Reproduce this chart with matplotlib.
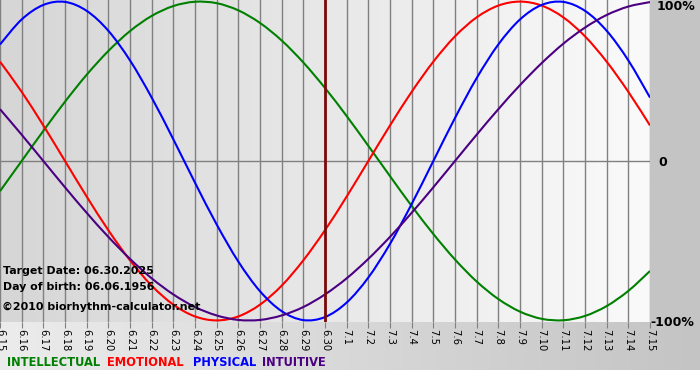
import numpy as np
import matplotlib
matplotlib.use("Agg")
import matplotlib.pyplot as plt
from matplotlib.colors import to_rgb
from matplotlib.path import Path
from matplotlib.patches import PathPatch

days = ["6.15", "6.16", "6.17", "6.18", "6.19", "6.20", "6.21", "6.22", "6.23", "6.24",
        "6.25", "6.26", "6.27", "6.28", "6.29", "6.30", "7.1", "7.2", "7.3", "7.4",
        "7.5", "7.6", "7.7", "7.8", "7.9", "7.10", "7.11", "7.12", "7.13", "7.14", "7.15"]

physical = [0.731, 0.888, 0.979, 0.998, 0.942, 0.817, 0.631, 0.398, 0.136, -0.136,
            -0.398, -0.631, -0.817, -0.942, -0.998, -0.979, -0.888, -0.731, -0.520, -0.270,
            0.0, 0.270, 0.520, 0.731, 0.888, 0.979, 0.998, 0.942, 0.817, 0.631, 0.398]
emotional = [0.623, 0.434, 0.223, 0.0, -0.223, -0.434, -0.623, -0.782, -0.901, -0.975,
             -1.0, -0.975, -0.901, -0.782, -0.623, -0.434, -0.223, 0.0, 0.223, 0.434,
             0.623, 0.782, 0.901, 0.975, 1.0, 0.975, 0.901, 0.782, 0.623, 0.434, 0.223]
intellectual = [-0.189, 0.0, 0.189, 0.372, 0.541, 0.690, 0.815, 0.910, 0.972, 0.999,
                0.990, 0.945, 0.866, 0.756, 0.618, 0.458, 0.282, 0.095, -0.095, -0.282,
                -0.458, -0.618, -0.756, -0.866, -0.945, -0.990, -0.999, -0.972, -0.910, -0.815, -0.690]
intuitive = [0.325, 0.165, 0.0, -0.165, -0.325, -0.476, -0.614, -0.736, -0.837, -0.916,
             -0.969, -0.997, -0.997, -0.969, -0.916, -0.837, -0.736, -0.614, -0.476, -0.325,
             -0.165, 0.0, 0.165, 0.325, 0.476, 0.614, 0.736, 0.837, 0.916, 0.969, 0.997]

target_day = "6.30"
target_text = "Target Date: 06.30.2025"
birth_text = "Day of birth: 06.06.1956"
copyright_text = "\u00a92010 biorhythm-calculator.net"

series = [("INTELLECTUAL", intellectual, "#008000"),
          ("EMOTIONAL", emotional, "#ff0000"),
          ("PHYSICAL", physical, "#0000ff"),
          ("INTUITIVE", intuitive, "#4b0082")]

W, H = 700, 380
fig = plt.figure(figsize=(W / 100, H / 100), dpi=100)

# background panels
bg = fig.add_axes([0, 0, 1, 1])
bg.axis("off")
img = np.ones((H, W, 3))
panel = np.array(to_rgb("#c4c4c4"))
img[:, :, :] = panel
left_c = np.array(to_rgb("#ececec"))
grad = np.linspace(0, 1, W)[:, None]
bottom = left_c * (1 - grad) + panel * grad
img[321:370, :, :] = bottom[None, :, :]
img[370:, :, :] = 1.0
bg.imshow(img, extent=[0, W, H, 0], aspect="auto", zorder=0)
bg.set_xlim(0, W)
bg.set_ylim(H, 0)

ax = fig.add_axes([0, (H - 322) / H, 650 / W, 322 / H])
x = np.arange(len(days))
ymin, ymax = -1.01, 1.01
pg = np.linspace(0, 1, 256)[None, :, None]
c0 = np.array(to_rgb("#d6d6d6"))
c1 = np.array(to_rgb("#fafafa"))
pimg = c0 * (1 - pg) + c1 * pg
ax.imshow(pimg, extent=[0, len(days) - 1, ymin, ymax], aspect="auto", zorder=0)
ax.set_xlim(0, len(days) - 1)
ax.set_ylim(ymin, ymax)
for s in ax.spines.values():
    s.set_visible(False)
ax.set_xticks(x)
ax.set_xticklabels(days)
ax.set_yticks([])
ax.grid(axis="x", color="#808080", lw=1, zorder=1)
ax.set_axisbelow(False)
ax.tick_params(axis="x", length=4, color="#808080", labelsize=7.2, labelrotation=-90, pad=1)
ax.axhline(0, color="#808080", lw=1, zorder=1)


def smooth_path(xs, ys):
    """Catmull-Rom style Bezier path through the given data points (line smoothing)."""
    pts = np.column_stack([xs, ys]).astype(float)
    n = len(pts)
    verts = [pts[0]]
    codes = [Path.MOVETO]
    for i in range(n - 1):
        p0 = pts[i - 1] if i > 0 else pts[i]
        p1 = pts[i]
        p2 = pts[i + 1]
        p3 = pts[i + 2] if i + 2 < n else pts[i + 1]
        c1 = p1 + (p2 - p0) / 6.0
        c2 = p2 - (p3 - p1) / 6.0
        verts += [c1, c2, p2]
        codes += [Path.CURVE4] * 3
    return Path(verts, codes)


for name, vals, col in series:
    patch = PathPatch(smooth_path(x, vals), facecolor="none", edgecolor=col,
                      lw=1.5, zorder=3, transform=ax.transData)
    ax.add_patch(patch)

ax.axvline(days.index(target_day), color="#7a0a0a", lw=2, zorder=4)


def ftext(px, py, s, **kw):
    fig.text(px / W, 1 - py / H, s, **kw)


ftext(3, 271, target_text, fontsize=7.9, fontweight="bold", va="center", ha="left")
ftext(3, 287, birth_text, fontsize=7.9, fontweight="bold", va="center", ha="left")
ftext(2, 307, copyright_text, fontsize=7.9, fontweight="bold", va="center", ha="left")

ftext(657, 6, "100%", fontsize=9, fontweight="bold", va="center", ha="left")
ftext(658, 162, "0", fontsize=9, fontweight="bold", va="center", ha="left")
ftext(650, 322, "-100%", fontsize=9, fontweight="bold", va="center", ha="left")

xs = [7, 107, 193, 262]
for (name, vals, col), px in zip(series, xs):
    ftext(px, 362, name, fontsize=8.3, fontweight="bold", color=col, va="center", ha="left")

fig.savefig("out.png", dpi=100)
